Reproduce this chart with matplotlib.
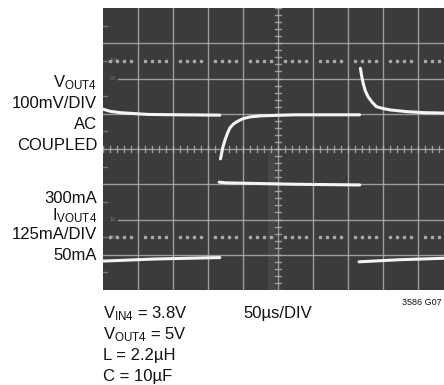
import numpy as np
import matplotlib
matplotlib.use("Agg")
import matplotlib.pyplot as plt

# ---- data (scope divisions; x: 50us/div, y: screen divisions from bottom) ----
vout_pre_t = [0.0, 0.2, 0.5, 1.3, 2.2, 3.34]
vout_pre_v = [5.13, 5.07, 5.03, 4.98, 4.97, 4.96]
vout_step_t = [3.36, 3.42, 3.49, 3.56, 3.63, 3.72, 3.82, 4.0, 4.2, 4.5, 4.8, 5.5, 6.5, 7.34]
vout_step_v = [3.72, 4.02, 4.26, 4.45, 4.60, 4.70, 4.77, 4.86, 4.91, 4.94, 4.95, 4.97, 4.97, 4.97]
vout_rel_t = [7.36, 7.40, 7.44, 7.50, 7.58, 7.70, 7.82, 8.0, 8.2, 8.68, 9.2, 9.75]
vout_rel_v = [6.29, 6.05, 5.86, 5.65, 5.48, 5.32, 5.20, 5.15, 5.11, 5.06, 5.03, 5.02]

i_low1_t = [0.0, 1.5, 3.34]
i_low1_v = [0.82, 0.88, 0.92]
i_high_t = [3.32, 3.5, 5.5, 7.34]
i_high_v = [3.06, 3.04, 3.00, 2.98]
i_low2_t = [7.32, 8.5, 9.75]
i_low2_v = [0.80, 0.86, 0.90]

left_labels = ["V$_{\\mathrm{OUT4}}$", "100mV/DIV", "AC", "COUPLED",
               "300mA", "I$_{\\mathrm{VOUT4}}$", "125mA/DIV", "50mA"]
left_label_y = [87, 108, 129, 150, 203, 220, 239, 260]
bottom_labels = ["V$_{\\mathrm{IN4}}$ = 3.8V", "V$_{\\mathrm{OUT4}}$ = 5V", "L = 2.2µH", "C = 10µF"]
bottom_label_y = [318, 339, 360, 381]
timebase = "50µs/DIV"
fig_id = "3586 G07"

FONT = ["Liberation Sans", "DejaVu Sans"]
plt.rcParams['font.family'] = FONT
plt.rcParams['mathtext.fontset'] = 'custom'
plt.rcParams['mathtext.rm'] = "Liberation Sans"
plt.rcParams['mathtext.it'] = "Liberation Sans"

W, H = 444, 385
fig = plt.figure(figsize=(W / 100, H / 100), dpi=100)
ax = fig.add_axes([103 / W, (H - 290) / H, (W - 103) / W, 282 / H])
ax.set_facecolor("#3b3b3b")
ax.set_xlim(0, 9.75)
ax.set_ylim(0, 8)
for s in ax.spines.values():
    s.set_visible(False)
ax.set_xticks([])
ax.set_yticks([])

gcol = "#b4b4b4"
# faint bright band near center
ax.axvspan(4.72, 4.95, ymin=0, ymax=0.5, color="white", alpha=0.06, lw=0)
# graticule
for x in range(1, 10):
    ax.axvline(x, color=gcol, lw=1.0, alpha=0.8, zorder=1)
for y in range(1, 8):
    xmin = 0.045 if y in (2, 6) else 0
    ax.axhline(y, xmin=xmin, color=gcol, lw=1.0, alpha=0.8, zorder=1)
# center ticks
tk = np.arange(0, 9.8, 0.2)
ax.plot(np.repeat(tk, 3), np.tile([3.92, 4.08, np.nan], len(tk)), color=gcol, lw=1.0, alpha=0.8, zorder=1)
tv = np.arange(0, 8.01, 0.2)
ax.plot(np.tile([4.92, 5.08, np.nan], len(tv)), np.repeat(tv, 3), color=gcol, lw=1.0, alpha=0.8, zorder=1)
# dotted 10%/90% lines
dx = np.array([k * 0.2 for k in range(1, 49) if k % 5 != 0])
for yy in (6.5, 1.5):
    ax.plot(dx, np.full_like(dx, yy), ls="none", marker="s", ms=1.6, color=gcol, alpha=0.85, zorder=1)
# left edge small marks
for yy in np.arange(0.5, 8, 1.0):
    ax.plot([0, 0.12], [yy, yy], color=gcol, lw=1.0, alpha=0.5)
for yy, t in ((6.5, "100"), (6.0, "90"), (2.0, "10"), (1.5, "0%")):
    ax.text(0.18, yy, t, color=gcol, alpha=0.5, fontsize=4, va="center", ha="left")

tc = "#f4f4f4"
for t, v in ((vout_pre_t, vout_pre_v), (vout_step_t, vout_step_v), (vout_rel_t, vout_rel_v),
             (i_low1_t, i_low1_v), (i_high_t, i_high_v), (i_low2_t, i_low2_v)):
    ax.plot(t, v, color=tc, lw=2.2, solid_capstyle="round", zorder=3)

fs = 12
for lab, yy in zip(left_labels, left_label_y):
    fig.text(97 / W, 1 - yy / H, lab, ha="right", va="baseline", fontsize=fs, color="#111111")
for lab, yy in zip(bottom_labels, bottom_label_y):
    fig.text(103 / W, 1 - yy / H, lab, ha="left", va="baseline", fontsize=fs, color="#111111")
fig.text(243 / W, 1 - 318 / H, timebase, ha="left", va="baseline", fontsize=fs, color="#111111")
fig.text(442 / W, 1 - 305 / H, fig_id, ha="right", va="baseline", fontsize=6.5, color="#111111")

fig.savefig("out.png", dpi=100)
